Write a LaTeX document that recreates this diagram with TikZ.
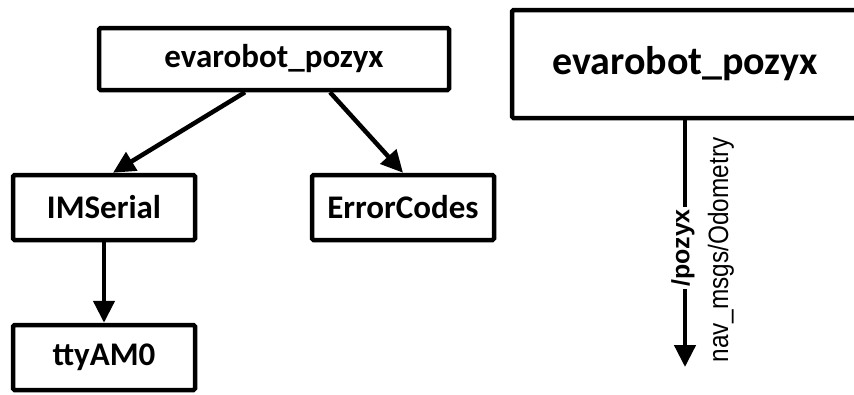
\documentclass[tikz,border=0pt]{standalone}
\usepackage{fontspec}
\setmainfont{Carlito}
\newfontfamily\lblfont{Liberation Sans}
\usetikzlibrary{arrows.meta,calc}
\tikzset{
  box/.style={draw=black, line width=4.5pt, rounded corners=1.5pt, fill=white,
    font=\bfseries\fontsize{33}{36}\selectfont, inner sep=0pt},
  conn/.style={line width=4.5pt, -{Triangle[length=22pt,width=21pt]}},
}
\begin{document}
\begin{tikzpicture}[x=1pt,y=-1pt]
\useasboundingbox (0,0) rectangle (854,394);
\clip (0,0) rectangle (854,394);
\node[box, minimum width=350pt, minimum height=62pt] (top) at (274,59) {evarobot\_pozyx};
\node[box, minimum width=182pt, minimum height=65pt] (ims) at (104,207.5) {IMSerial};
\node[box, minimum width=182pt, minimum height=65pt] (err) at (403,207.5) {ErrorCodes};
\node[box, minimum width=182pt, minimum height=65pt] (tty) at (104,357.5) {ttyAM0};
\node[box, minimum width=346pt, minimum height=108pt, font=\bfseries\fontsize{40}{44}\selectfont] (rt) at (685,64) {evarobot\_pozyx};
\coordinate (rend) at (685,367);
\draw[conn] ($(top.south)+(-29,0)$) -- ($(ims.north)+(9,0)$);
\draw[conn] ($(top.south)+(56,0)$) -- (err.north);
\draw[conn] (ims.south) -- (tty.north);
\draw[conn] (rt.south) -- (rend);
\node[rotate=90, fill=white, inner xsep=2pt, inner ysep=2pt, font=\lblfont\bfseries\fontsize{25}{28}\selectfont] (topic) at (683,248) {/pozyx};
\node[rotate=90, xscale=0.87, inner sep=0pt, font=\lblfont\fontsize{28}{30}\selectfont] (msg) at (721,250) {nav\_msgs/Odometry};
\end{tikzpicture}
\end{document}
